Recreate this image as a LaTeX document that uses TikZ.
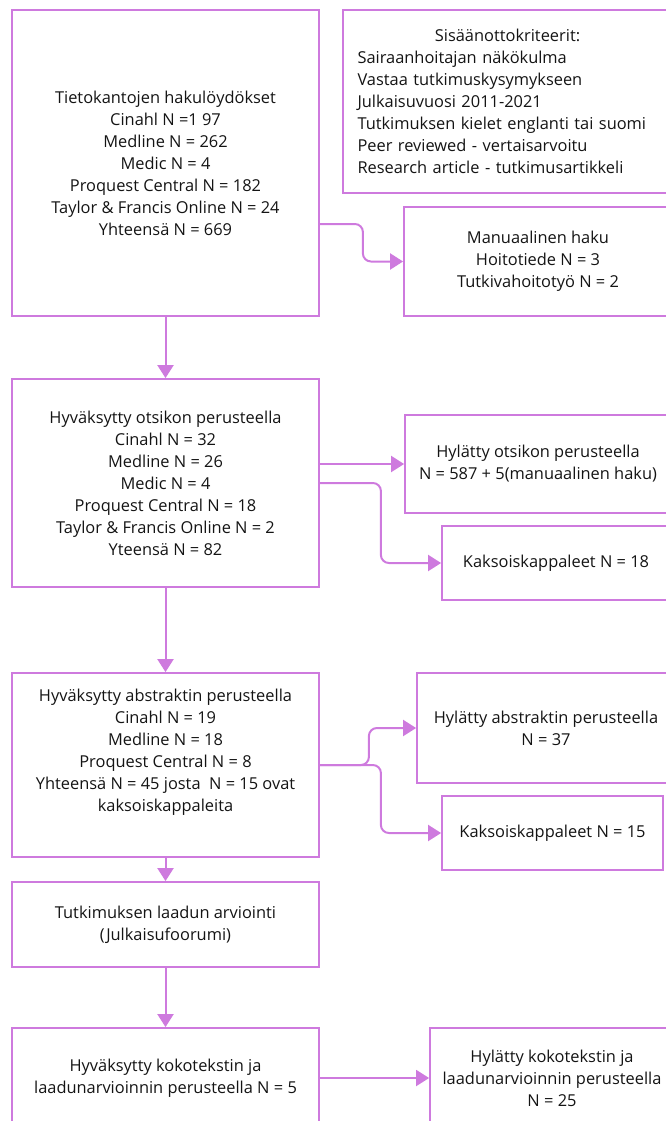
\documentclass[tikz,border=0pt]{standalone}
\usepackage{fontspec}
\setmainfont{Open Sans}
\usetikzlibrary{arrows.meta,positioning}
\definecolor{flowline}{RGB}{206,122,222}
\definecolor{flowtext}{RGB}{20,20,20}

\begin{document}
\begin{tikzpicture}[x=1pt,y=-1pt,
	box/.style={draw=flowline,line width=1.8pt,align=center,inner sep=0pt,text=flowtext,font=\fontsize{16.4}{22}\selectfont},
	link/.style={draw=flowline,line width=2pt,-{Triangle[length=13pt,width=16pt]},rounded corners=8pt}]
	\useasboundingbox (0,0) rectangle (666,1121);
	\clip (0,0) rectangle (666,1121);
	% left column
	\node[box,minimum width=307pt,minimum height=306pt] (search) at (165.5,163) {Tietokantojen hakulöydökset\\Cinahl N =1 97\\Medline N = 262\\Medic N = 4\\Proquest Central N = 182\\Taylor \& Francis Online N = 24\\Yhteensä N = 669};
	\node[box,minimum width=307pt,minimum height=208pt] (screen) at (165.5,483) {Hyväksytty otsikon perusteella\\Cinahl N = 32\\Medline N = 26\\Medic N = 4\\Proquest Central N = 18\\Taylor \& Francis Online N = 2\\Yteensä N = 82};
	\node[box,minimum width=307pt,minimum height=184pt] (abstract) at (165.5,765) {Hyväksytty abstraktin perusteella\\Cinahl N = 19\\Medline N = 18\\Proquest Central N = 8\\Yhteensä N = 45 josta \ N = 15 ovat\\kaksoiskappaleita\\\strut};
	\node[box,minimum width=307pt,minimum height=85pt] (quality) at (165.5,924.5) {Tutkimuksen laadun arviointi\\(Julkaisufoorumi)};
	\node[box,minimum width=307pt,minimum height=100pt] (fulltext) at (165.5,1078) {Hyväksytty kokotekstin ja\\laadunarvioinnin perusteella N = 5};
	% right column
	\node[box,minimum width=329pt,minimum height=183pt,text width=300pt,align=left] (criteria) at (507.5,101.5) {\hfill Sisäänottokriteerit:\hfill\null\\Sairaanhoitajan näkökulma\\Vastaa tutkimuskysymykseen\\Julkaisuvuosi 2011-2021\\Tutkimuksen kielet englanti tai suomi\\Peer reviewed - vertaisarvoitu\\Research article - tutkimusartikkeli};
	\node[box,minimum width=268pt,minimum height=109pt] (manual) at (538,261.5) {Manuaalinen haku\\Hoitotiede N = 3\\Tutkivahoitotyö N = 2};
	\node[box,minimum width=266pt,minimum height=98pt] (rejtitle) at (538,464) {Hylätty otsikon perusteella\\N = 587 + 5(manuaalinen haku)};
	\node[box,minimum width=228pt,minimum height=74pt] (dup18) at (556,563) {Kaksoiskappaleet N = 18};
	\node[box,minimum width=258pt,minimum height=110pt] (rejabs) at (546,728) {Hylätty abstraktin perusteella\\N = 37};
	\node[box,minimum width=221pt,minimum height=74pt] (dup15) at (552.5,833) {Kaksoiskappaleet N = 15};
	\node[box,minimum width=244pt,minimum height=100pt] (rejfull) at (552,1078) {Hylätty kokotekstin ja\\laadunarvioinnin perusteella\\N = 25};
	% connectors
	\draw[link] (search.south) -- (screen.north);
	\draw[link] (screen.south) -- (abstract.north);
	\draw[link] (abstract.south) -- (quality.north);
	\draw[link] (quality.south) -- (fulltext.north);
	\draw[link] ([yshift=-61pt]search.east) -- ++(43,0) |- (manual.west);
	\draw[link] (screen.east |- rejtitle.west) -- (rejtitle.west);
	\draw[link] (screen.east) -- ++(61,0) |- (dup18.west);
	\draw[link] (abstract.east) -- ++(49,0) |- (rejabs.west);
	\draw[link] (abstract.east) -- ++(61,0) |- (dup15.west);
	\draw[link] (fulltext.east) -- (rejfull.west);
\end{tikzpicture}
\end{document}
